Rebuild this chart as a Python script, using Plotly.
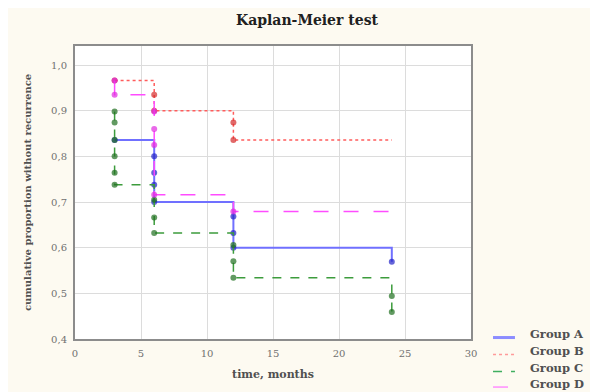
import plotly.graph_objects as go

# Kaplan-Meier step data (time in months, cumulative proportion)
groups = ["Group A", "Group B", "Group C", "Group D"]
a_t = [3, 6, 6, 6, 6, 12, 12, 12, 24]
a_s = [0.836, 0.800, 0.764, 0.738, 0.700, 0.668, 0.632, 0.600, 0.569]
b_t = [3, 6, 6, 12, 12, 24]
b_s = [0.966, 0.935, 0.900, 0.874, 0.836, 0.836]
c_t = [3, 3, 3, 3, 3, 3, 6, 6, 6, 12, 12, 12, 24, 24]
c_s = [0.898, 0.874, 0.836, 0.800, 0.764, 0.738, 0.705, 0.666, 0.632,
       0.606, 0.570, 0.534, 0.494, 0.459]
d_t = [3, 3, 6, 6, 6, 6, 12, 24]
d_s = [0.966, 0.935, 0.898, 0.860, 0.825, 0.716, 0.679, 0.679]
censored_last = [False, True, False, True]

x_ticks = [0, 5, 10, 15, 20, 25, 30]
y_ticks = [0.4, 0.5, 0.6, 0.7, 0.8, 0.9, 1.0]

line_colors = ["#7070ff", "#ff5c5c", "#3c9c3c", "#ff4cff"]
marker_colors = ["#2424c8", "#d42a2a", "#1f6f1f", "#e02ae0"]
legend_colors = ["#8c8cff", "#ff9a9a", "#3fae5f", "#ff8cff"]
dashes = ["solid", "dot", "dash", "longdash"]
widths = [2, 1.5, 1.5, 1.5]

fig = go.Figure()
for i, (name, t, s) in enumerate(zip(groups, [a_t, b_t, c_t, d_t], [a_s, b_s, c_s, d_s])):
    sizes = [6] * len(t)
    if censored_last[i]:
        sizes[-1] = 0
    fig.add_trace(go.Scatter(
        x=t, y=s, name=name, mode="lines+markers", showlegend=False,
        line=dict(shape="hv", color=line_colors[i], dash=dashes[i], width=widths[i]),
        marker=dict(size=sizes, color=marker_colors[i], line=dict(width=0)),
    ))

serif = "DejaVu Serif"

# manual legend in the lower right corner
leg_text_y = [0.017, -0.041, -0.099, -0.152]
for i, name in enumerate(groups):
    fig.add_annotation(xref="paper", yref="paper", x=1.144, y=leg_text_y[i],
                       xanchor="left", yanchor="middle", showarrow=False,
                       text="<b>" + name + "</b>",
                       font=dict(family=serif, size=11.5, color="#505050"))
    fig.add_shape(type="line", xref="paper", yref="paper",
                  x0=1.0556, x1=1.111, y0=leg_text_y[i] - 0.012, y1=leg_text_y[i] - 0.012,
                  line=dict(color=legend_colors[i], dash=dashes[i], width=3 if i == 0 else 1.5))

fig.update_layout(
    width=598, height=392,
    margin=dict(l=67, r=135, t=38, b=61),
    paper_bgcolor="#fdfaf1",
    plot_bgcolor="#ffffff",
    separators=", ",
    title=dict(text="<b>Kaplan-Meier test</b>", x=0.5, xanchor="center",
               y=0.969, yanchor="middle",
               font=dict(family=serif, size=14, color="#202020")),
    showlegend=False,
    xaxis=dict(range=[0, 30], tickvals=x_ticks, showgrid=True, gridcolor="#dcdcdc",
               gridwidth=1, zeroline=False, showline=True, linecolor="#8c8c8c",
               linewidth=2, mirror=True, ticks="", automargin=False, ticklabelstandoff=4,
               tickfont=dict(family=serif, size=10, color="#707070"),
               title=dict(text="<b>time, months</b>", standoff=12,
                          font=dict(family=serif, size=11, color="#505050"))),
    yaxis=dict(range=[0.4, 1.0416], tickvals=y_ticks, tickformat=".1f",
               showgrid=True, gridcolor="#dcdcdc", gridwidth=1, zeroline=False,
               showline=True, linecolor="#8c8c8c", linewidth=2, mirror=True, ticks="",
               automargin=False, ticklabelstandoff=4,
               tickfont=dict(family=serif, size=10, color="#707070"),
               title=dict(text="<b>cumulative proportion without recurrence</b>", standoff=18,
                          font=dict(family=serif, size=10, color="#505050"))),
)

fig.write_html("out.html")
